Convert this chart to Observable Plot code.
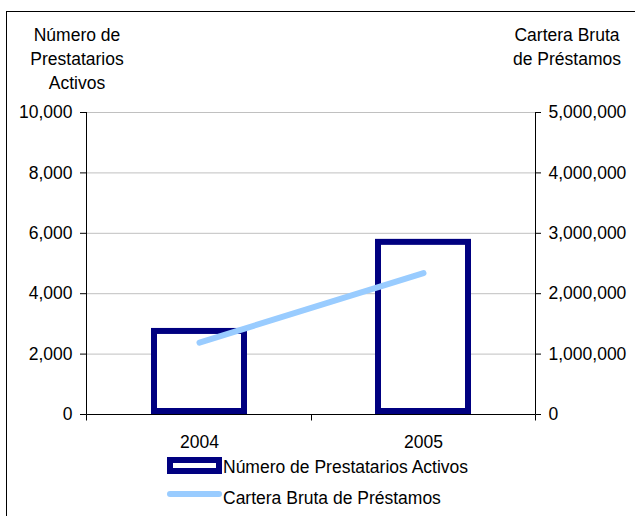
<!DOCTYPE html>
<html>
<head>
<meta charset="utf-8">
<script src="https://cdn.jsdelivr.net/npm/d3@7"></script>
<script src="https://cdn.jsdelivr.net/npm/@observablehq/plot@0.6"></script>
<style>
  html, body { margin: 0; padding: 0; background: #fff; overflow: hidden; }
  #wrap { position: relative; width: 635px; height: 516px; overflow: hidden;
          font-family: "Liberation Sans", Arial, sans-serif; font-size: 17.5px; color: #000; }
  .abs { position: absolute; }
  .frame { left: 6px; top: 11px; width: 700px; height: 600px; border-left: 1px solid #000; border-top: 1px solid #000; }
  .ttl { width: 160px; text-align: center; line-height: 24px; white-space: nowrap; }
  .leg { line-height: 20px; white-space: nowrap; }
</style>
</head>
<body>
<div id="wrap">
  <div class="abs frame"></div>
  <div class="abs ttl" style="left:-3px; top:23px;">Número de<br>Prestatarios<br>Activos</div>
  <div class="abs ttl" style="left:487px; top:23px;">Cartera Bruta<br>de Préstamos</div>
  <div id="chart" class="abs" style="left:0; top:100px;"></div>
  <div class="abs" style="left:167px; top:457px; width:43px; height:5px; border:6px solid #000080; background:#fff;"></div>
  <div class="abs leg" id="leg1" style="left:223px; top:457px;"></div>
  <div class="abs" style="left:167px; top:491px; width:55px; height:6px; background:#99CCFF; border-radius:3px;"></div>
  <div class="abs leg" id="leg2" style="left:223px; top:488px;"></div>
</div>
<script>
// ---- data ----
const years = ["2004", "2005"];
const prestatarios = [2750, 5700];          // Número de Prestatarios Activos (left axis)
const cartera = [1190000, 2340000];         // Cartera Bruta de Préstamos (right axis)
const leftTicks = [0, 2000, 4000, 6000, 8000, 10000];
const rightTicks = [0, 1000000, 2000000, 3000000, 4000000, 5000000];
const seriesNames = ["Número de Prestatarios Activos", "Cartera Bruta de Préstamos"];

const RATIO = rightTicks[rightTicks.length - 1] / leftTicks[leftTicks.length - 1];
const table = years.map((y, i) => ({year: y, prestatarios: prestatarios[i], cartera: cartera[i]}));
const fmt = d3.format(",");

document.getElementById("leg1").textContent = seriesNames[0];
document.getElementById("leg2").textContent = seriesNames[1];

function axisLines(index, scales, values, dims) {
  const {width, height, marginLeft, marginRight, marginBottom, marginTop} = dims;
  const x0 = marginLeft + 0.5, x1 = width - marginRight + 0.5, yb = height - marginBottom + 0.5;
  const g = d3.create("svg:g").attr("stroke", "#000").attr("stroke-width", 1).attr("fill", "none");
  g.append("line").attr("x1", x0).attr("x2", x0).attr("y1", marginTop).attr("y2", yb);
  g.append("line").attr("x1", x1).attr("x2", x1).attr("y1", marginTop).attr("y2", yb);
  g.append("line").attr("x1", x0).attr("x2", x1).attr("y1", yb).attr("y2", yb);
  const mid = Math.round((marginLeft + width - marginRight) / 2) + 0.5;
  for (const x of [x0, mid, x1]) {
    g.append("line").attr("x1", x).attr("x2", x).attr("y1", yb).attr("y2", yb + 6);
  }
  return g.node();
}

const plot = Plot.plot({
  width: 635,
  height: 350,
  marginLeft: 86,
  marginRight: 100,
  marginTop: 12,
  marginBottom: 36,
  style: {fontFamily: "'Liberation Sans', Arial, sans-serif", fontSize: "17.5px", color: "#000", background: "transparent", overflow: "visible"},
  x: {type: "band", domain: years, paddingInner: 0.6, paddingOuter: 0.3},
  y: {domain: [leftTicks[0], leftTicks[leftTicks.length - 1]]},
  marks: [
    Plot.gridY(leftTicks, {stroke: "#c0c0c0", strokeOpacity: 1}),
    Plot.axisY(leftTicks, {anchor: "left", tickFormat: fmt, tickSize: 6, tickPadding: 8, label: null, fontSize: 17.5}),
    Plot.axisY(rightTicks.map(v => v / RATIO), {anchor: "right", tickFormat: d => fmt(Math.round(d * RATIO)), tickSize: 5, tickPadding: 8, label: null, fontSize: 17.5}),
    Plot.axisX({tickSize: 0, tickPadding: 21, label: null, fontSize: 17.5}),
    Plot.barY(table, {x: "year", y: "prestatarios", fill: "#fff", stroke: "#000080", strokeWidth: 6, insetBottom: 3}),
    axisLines,
    Plot.line(table, {x: "year", y: d => d.cartera / RATIO, stroke: "#99CCFF", strokeWidth: 6, strokeLinecap: "round"})
  ]
});
document.getElementById("chart").appendChild(plot);
</script>
</body>
</html>
